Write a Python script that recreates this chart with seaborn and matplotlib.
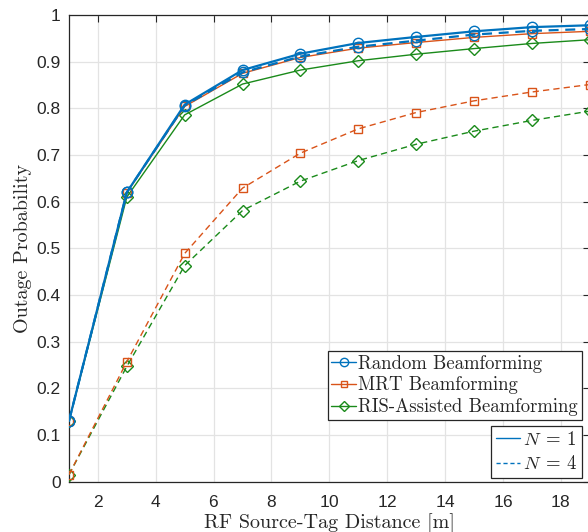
import numpy as np
import pandas as pd
import matplotlib
matplotlib.use("Agg")
import matplotlib.pyplot as plt
from matplotlib.lines import Line2D
import seaborn as sns

# Distance between RF source and tag [m]
distance = [1, 3, 5, 7, 9, 11, 13, 15, 17, 19]

# Outage probability per scheme, single antenna (N = 1)
random_n1 = [0.130, 0.620, 0.808, 0.882, 0.917, 0.940, 0.953, 0.965, 0.974, 0.978]
mrt_n1 = [0.130, 0.619, 0.804, 0.875, 0.909, 0.929, 0.941, 0.952, 0.960, 0.965]
ris_n1 = [0.130, 0.610, 0.786, 0.852, 0.882, 0.902, 0.916, 0.928, 0.939, 0.947]

# Outage probability per scheme, four antennas (N = 4)
random_n4 = [0.130, 0.620, 0.806, 0.877, 0.911, 0.932, 0.945, 0.958, 0.966, 0.970]
mrt_n4 = [0.015, 0.257, 0.489, 0.629, 0.704, 0.756, 0.791, 0.816, 0.835, 0.851]
ris_n4 = [0.015, 0.247, 0.463, 0.581, 0.644, 0.688, 0.723, 0.751, 0.774, 0.794]

schemes = ["Random Beamforming", "MRT Beamforming", "RIS-Assisted Beamforming"]
antenna_labels = [r"$N\:=\:1$", r"$N\:=\:4$"]
x_ticks = [2, 4, 6, 8, 10, 12, 14, 16, 18]
y_ticks = [0, 0.1, 0.2, 0.3, 0.4, 0.5, 0.6, 0.7, 0.8, 0.9, 1]
y_tick_labels = ["0", "0.1", "0.2", "0.3", "0.4", "0.5", "0.6", "0.7", "0.8", "0.9", "1"]

sns.set_theme(style="whitegrid")
plt.rcParams["font.family"] = ["Liberation Sans", "DejaVu Sans"]
plt.rcParams["mathtext.fontset"] = "cm"
plt.rcParams["axes.formatter.use_mathtext"] = True

colors = {"Random Beamforming": "#0072BD",
          "MRT Beamforming": "#D95319",
          "RIS-Assisted Beamforming": "#1a8a1a"}
markers = {"Random Beamforming": "o",
           "MRT Beamforming": "s",
           "RIS-Assisted Beamforming": "D"}
msizes = {"Random Beamforming": 7.5, "MRT Beamforming": 5.5,
          "RIS-Assisted Beamforming": 6.0}
widths = {"Random Beamforming": 1.6, "MRT Beamforming": 1.0,
          "RIS-Assisted Beamforming": 1.0}

rows = []
for scheme, v1, v4 in zip(schemes, [random_n1, mrt_n1, ris_n1],
                          [random_n4, mrt_n4, ris_n4]):
    for d, a, b in zip(distance, v1, v4):
        rows.append({"scheme": scheme, "N": "1", "distance": d, "outage": a})
        rows.append({"scheme": scheme, "N": "4", "distance": d, "outage": b})
df = pd.DataFrame(rows)

fig = plt.figure(figsize=(5.88, 5.32), dpi=100)
ax = fig.add_axes([0.1173, 0.0946, 0.8854, 0.8772])

draw_order = [("RIS-Assisted Beamforming", "4"), ("MRT Beamforming", "4"),
              ("RIS-Assisted Beamforming", "1"), ("MRT Beamforming", "1"),
              ("Random Beamforming", "4"), ("Random Beamforming", "1")]
for scheme, n in draw_order:
    sub = df[(df.scheme == scheme) & (df.N == n)]
    sns.lineplot(data=sub, x="distance", y="outage", ax=ax,
                 color=colors[scheme], marker=markers[scheme],
                 markersize=msizes[scheme], markerfacecolor="none",
                 markeredgecolor=colors[scheme], markeredgewidth=1.0,
                 linewidth=widths[scheme],
                 linestyle="-" if n == "1" else (0, (4.5, 3.0)),
                 legend=False, zorder=3)

ax.set_xlim(1, 19)
ax.set_ylim(0, 1)
ax.set_xticks(x_ticks)
ax.set_yticks(y_ticks)
ax.set_yticklabels(y_tick_labels)
ax.tick_params(direction="in", length=5, width=0.8, colors="#262626",
               labelsize=12.5, top=True, right=True, pad=6)
ax.tick_params(axis="x", pad=9)
ax.grid(True, color="#e3e3e3", linewidth=0.9)
ax.set_facecolor("white")
for side in ax.spines.values():
    side.set_color("#262626")
    side.set_linewidth(0.9)

ax.set_xlabel("RF Source-Tag Distance [m]", fontfamily="cmr10",
              fontsize=14.5, color="#262626", labelpad=2)
ax.set_ylabel("Outage Probability", fontfamily="cmr10",
              fontsize=14.5, color="#262626", labelpad=3)

scheme_handles = [Line2D([0], [0], color=colors[s], marker=markers[s],
                         markersize=msizes[s] * 0.8, markerfacecolor="none",
                         linewidth=1.0)
                  for s in schemes]
leg1 = ax.legend(scheme_handles, schemes, loc="upper right",
                 bbox_to_anchor=(582 / 588, 1 - 351 / 532),
                 bbox_transform=fig.transFigure,
                 prop={"family": "cmr10", "size": 13.5},
                 handlelength=1.3, handletextpad=0.15, borderpad=0.2,
                 labelspacing=0.2, borderaxespad=0, fancybox=False,
                 framealpha=1, edgecolor="#262626")
leg1.get_frame().set_linewidth(0.9)
ax.add_artist(leg1)

n_handles = [Line2D([0], [0], color=colors["Random Beamforming"], linewidth=1.0,
                    linestyle=ls) for ls in ["-", (0, (3, 2))]]
leg2 = ax.legend(n_handles, antenna_labels, loc="upper right",
                 bbox_to_anchor=(582 / 588, 1 - 426 / 532),
                 bbox_transform=fig.transFigure,
                 prop={"family": "cmr10", "size": 13.5},
                 handlelength=1.3, handletextpad=0.15, borderpad=0.25,
                 labelspacing=0.35, borderaxespad=0, fancybox=False,
                 framealpha=1, edgecolor="#262626")
leg2.get_frame().set_linewidth(0.9)

fig.savefig("out.png", dpi=100)
